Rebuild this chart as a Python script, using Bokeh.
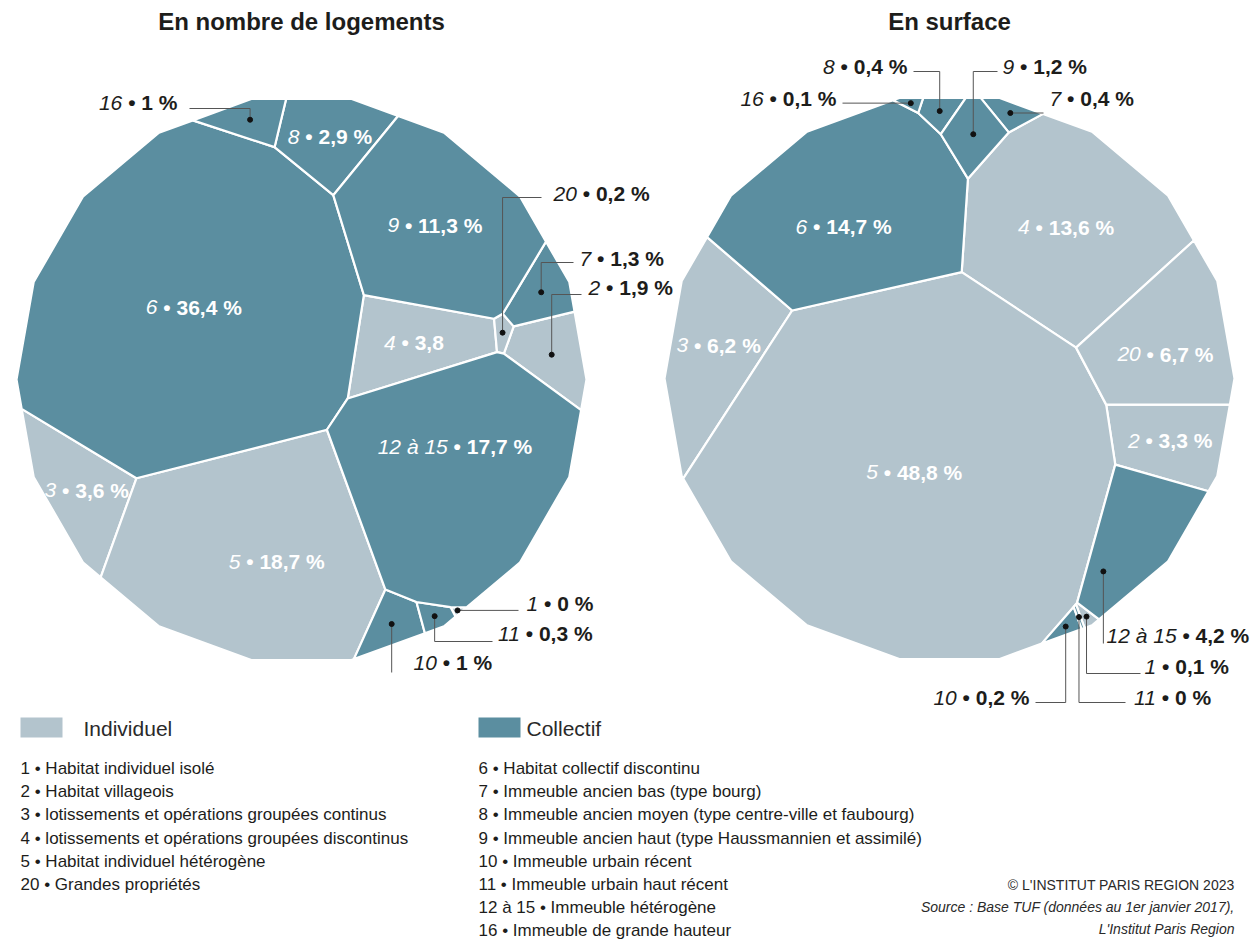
import math
import numpy as np
from bokeh.plotting import figure
from bokeh.models import Range1d
from bokeh.core.properties import value
from bokeh.embed import file_html
from bokeh.resources import INLINE

FONT = "Liberation Sans"

# ---------------- data ----------------
codes = ["1", "2", "3", "4", "5", "20", "6", "7", "8", "9", "10", "11", "12 à 15", "16"]
types = ["Individuel"] * 6 + ["Collectif"] * 8
pct_logements = [0, 1.9, 3.6, 3.8, 18.7, 0.2, 36.4, 1.3, 2.9, 11.3, 1, 0.3, 17.7, 1]
pct_surface = [0.1, 3.3, 6.2, 13.6, 48.8, 6.7, 14.7, 0.4, 0.4, 1.2, 0.2, 0, 4.2, 0.1]

titles = ["En nombre de logements", "En surface"]

legend_indiv_codes = ["1", "2", "3", "4", "5", "20"]
legend_indiv_desc = ["Habitat individuel isolé", "Habitat villageois",
                     "lotissements et opérations groupées continus",
                     "lotissements et opérations groupées discontinus",
                     "Habitat individuel hétérogène", "Grandes propriétés"]
legend_coll_codes = ["6", "7", "8", "9", "10", "11", "12 à 15", "16"]
legend_coll_desc = ["Habitat collectif discontinu", "Immeuble ancien bas (type bourg)",
                    "Immeuble ancien moyen (type centre-ville et faubourg)",
                    "Immeuble ancien haut (type Haussmannien et assimilé)",
                    "Immeuble urbain récent", "Immeuble urbain haut récent",
                    "Immeuble hétérogène", "Immeuble de grande hauteur"]
credits = ["© L'INSTITUT PARIS REGION 2023",
           "Source : Base TUF (données au 1er janvier 2017),",
           "L'Institut Paris Region"]

COLORS = {"Individuel": "#b3c4cd", "Collectif": "#5b8ea0"}
TXT = "#1d1d1b"

# ---------------- layout (seeds of the Voronoi treemap, label placement) ----------------
LEFT = dict(center=(301, 379), R=285,
            seeds={"1": (462, 607), "2": (555, 350), "3": (75, 490), "4": (415, 335),
                   "5": (255, 555), "20": (494, 328), "6": (190, 300), "7": (540, 288),
                   "8": (325, 135), "9": (435, 225), "10": (403, 622), "11": (440, 612),
                   "12 à 15": (460, 480), "16": (250, 117)},
            outside={"16": dict(side="R", x=177, y=102, lx=189, ly=108),
                     "20": dict(side="L", x=553, y=193, lx=541, ly=197),
                     "7": dict(side="L", x=579, y=258, lx=573, ly=262),
                     "2": dict(side="L", x=588, y=287, lx=581, ly=294),
                     "1": dict(side="L", x=526, y=603, lx=518, ly=None),
                     "11": dict(side="L", x=496, y=633, lx=492, ly=641),
                     "10": dict(side="L", x=413, y=662, lx=None, ly=672)},
            nudge={"12 à 15": (0, -28), "5": (25, 8)},
            nopct={"4"})
RIGHT = dict(center=(949, 378), R=285,
             seeds={"1": (1089, 628), "2": (1170, 440), "3": (720, 360), "4": (1070, 230),
                    "5": (905, 480), "20": (1170, 340), "6": (845, 215), "7": (1005, 110),
                    "8": (936, 118), "9": (968, 140), "10": (1074, 632), "11": (1083, 625),
                    "12 à 15": (1140, 545), "16": (900, 106)},
             outside={"16": dict(side="R", x=836, y=98, lx=842, ly=None),
                      "8": dict(side="R", x=907, y=66, lx=913, ly=71),
                      "9": dict(side="L", x=1002, y=66, lx=997, ly=71),
                      "7": dict(side="L", x=1049, y=98, lx=1043, ly=None),
                      "12 à 15": dict(side="L", x=1106, y=635, lx=None, ly=643, dot=(-32, 36)),
                      "1": dict(side="L", x=1144, y=666, lx=1140, ly=673),
                      "11": dict(side="L", x=1132, y=697, lx=1125, ly=702),
                      "10": dict(side="R", x=1029, y=697, lx=1035, ly=702)},
             nudge={"6": (-7, 16), "20": (0, 13)},
             nopct=set())

# ---------------- power-diagram (Voronoi treemap) machinery ----------------
NSIDES = 18


def boundary_poly(c, R):
    return [(c[0] + R * math.cos(math.radians(360 / NSIDES * k)),
             c[1] - R * math.sin(math.radians(360 / NSIDES * k))) for k in range(NSIDES)]


def clamp_inside(pt, c, R, frac=0.97):
    dx, dy = pt[0] - c[0], pt[1] - c[1]
    r = math.hypot(dx, dy)
    if r == 0:
        return pt
    th = math.degrees(math.atan2(-dy, dx))
    step = 360 / NSIDES
    d = (th % step) - step / 2
    apo = R * math.cos(math.radians(step / 2))
    rb = apo / math.cos(math.radians(d))
    if r > frac * rb:
        s = frac * rb / r
        return (c[0] + dx * s, c[1] + dy * s)
    return pt


def clip(poly, labs, a, b, c, lab):
    out, ol = [], []
    n = len(poly)
    for k in range(n):
        P = poly[k]
        Q = poly[(k + 1) % n]
        fP = a * P[0] + b * P[1] - c
        fQ = a * Q[0] + b * Q[1] - c
        if fP <= 0:
            out.append(P)
            ol.append(labs[k])
            if fQ > 0:
                t = fP / (fP - fQ)
                out.append((P[0] + t * (Q[0] - P[0]), P[1] + t * (Q[1] - P[1])))
                ol.append(lab)
        elif fQ <= 0:
            t = fP / (fP - fQ)
            out.append((P[0] + t * (Q[0] - P[0]), P[1] + t * (Q[1] - P[1])))
            ol.append(labs[k])
    return out, ol


def power_cells(S, w, bnd):
    n = len(S)
    cells = []
    for i in range(n):
        poly = list(bnd)
        labs = [-1] * len(poly)
        for j in range(n):
            if j == i:
                continue
            a = 2 * (S[j][0] - S[i][0])
            b = 2 * (S[j][1] - S[i][1])
            c = (S[j][0] ** 2 + S[j][1] ** 2 - S[i][0] ** 2 - S[i][1] ** 2) - w[j] + w[i]
            poly, labs = clip(poly, labs, a, b, c, j)
            if len(poly) < 3:
                poly, labs = [], []
                break
        cells.append((poly, labs))
    return cells


def area_centroid(poly):
    n = len(poly)
    if n < 3:
        return 0.0, (0.0, 0.0)
    a = cx = cy = 0.0
    for k in range(n):
        x0, y0 = poly[k]
        x1, y1 = poly[(k + 1) % n]
        cr = x0 * y1 - x1 * y0
        a += cr
        cx += (x0 + x1) * cr
        cy += (y0 + y1) * cr
    if abs(a) < 1e-12:
        return 0.0, poly[0]
    return abs(a) / 2, (cx / (3 * a), cy / (3 * a))


def areas(cells):
    return np.array([area_centroid(c[0])[0] for c in cells])


def solve(S, target, bnd):
    n = len(S)
    w = np.zeros(n)
    cells = power_cells(S, w, bnd)
    A = areas(cells)
    amin = 0.5 * min(A.min(), target.min())
    for _ in range(120):
        err = target - A
        if np.abs(err).max() < 0.3:
            break
        H = np.zeros((n, n))
        for i, (poly, labs) in enumerate(cells):
            m = len(poly)
            for k in range(m):
                j = labs[k]
                if j < 0:
                    continue
                P, Q = poly[k], poly[(k + 1) % m]
                L = math.hypot(Q[0] - P[0], Q[1] - P[1])
                d = math.hypot(S[i][0] - S[j][0], S[i][1] - S[j][1])
                h = L / (2 * d)
                H[i, j] -= h
                H[i, i] += h
        dw = np.linalg.lstsq(H, err, rcond=None)[0]
        alpha = 1.0
        ok = False
        while alpha > 1e-7:
            w2 = w + alpha * dw
            c2 = power_cells(S, w2, bnd)
            A2 = areas(c2)
            if A2.min() > amin and np.linalg.norm(target - A2) < np.linalg.norm(err):
                ok = True
                break
            alpha /= 2
        if not ok:
            break
        w, cells, A = w2, c2, A2
    return cells


def hspan(poly, y):
    xs = []
    n = len(poly)
    for k in range(n):
        (x0, y0), (x1, y1) = poly[k], poly[(k + 1) % n]
        if (y0 - y) * (y1 - y) <= 0 and y0 != y1:
            t = (y - y0) / (y1 - y0)
            xs.append(x0 + t * (x1 - x0))
    return (min(xs), max(xs)) if xs else None


# ---------------- text helpers ----------------
CW = {" ": .278, "•": .35, "%": .889, ",": .278, "à": .556}


def tw(s, fs):
    return fs * sum(CW.get(ch, .556) for ch in s)


def fmt(v):
    return f"{v:g}".replace(".", ",")


# ---------------- figure ----------------
W, H = 1255, 945
p = figure(width=W, height=H, x_range=Range1d(0, W), y_range=Range1d(H, 0),
           output_backend="svg", toolbar_location=None, min_border=0,
           x_axis_location=None, y_axis_location=None)
p.grid.visible = False
p.outline_line_color = None
p.background_fill_color = "white"


def draw_rich(parts_x1, parts_x2, ys, t1, t2, fs, color):
    p.text(x=parts_x1, y=ys, text=t1, text_font=value(FONT), text_font_size=f"{fs}px",
           text_font_style="italic", text_color=color, text_align="right", text_baseline="middle")
    p.text(x=parts_x2, y=ys, text=t2, text_font=value(FONT), text_font_size=f"{fs}px",
           text_font_style="bold", text_color=color, text_align="left", text_baseline="middle")


FS_IN = 21
FS_OUT = 21

for chart, vals, title in ((LEFT, pct_logements, titles[0]), (RIGHT, pct_surface, titles[1])):
    c, R = chart["center"], chart["R"]
    bnd = boundary_poly(c, R)
    total_area = area_centroid(bnd)[0]
    v = np.array([max(x, 0.03) for x in vals], dtype=float)
    target = v / v.sum() * total_area
    S = [clamp_inside(chart["seeds"][k], c, R) for k in codes]
    cells = solve(S, target, bnd)

    xs, ys, cols = [], [], []
    cents, polys = {}, {}
    for k, t, (poly, _) in zip(codes, types, cells):
        if len(poly) < 3:
            continue
        xs.append([q[0] for q in poly])
        ys.append([q[1] for q in poly])
        cols.append(COLORS[t])
        cents[k] = area_centroid(poly)[1]
        polys[k] = poly
    p.patches(xs, ys, fill_color=cols, line_color="white", line_width=2.2, line_join="round")

    p.text(x=[c[0]], y=[21], text=[title], text_font=value(FONT), text_font_size="24px",
           text_font_style="bold", text_color=TXT, text_align="center", text_baseline="middle")

    ix1, ix2, iy, it1, it2 = [], [], [], [], []
    ox1, ox2, oy, ot1, ot2 = [], [], [], [], []
    lxs, lys, dx, dy = [], [], [], []
    for k, val in zip(codes, vals):
        t1 = k
        t2 = "• " + fmt(val) + ("" if k in chart["nopct"] else " %")
        if k in chart["outside"]:
            spec = chart["outside"][k]
            fs = FS_OUT
            w1, sp, w2 = tw(t1, fs), tw(" ", fs), tw(t2, fs)
            if spec["side"] == "L":
                x1 = spec["x"] + w1
            else:
                x1 = spec["x"] - w2 - sp
            ox1.append(x1)
            ox2.append(x1 + sp)
            oy.append(spec["y"])
            ot1.append(t1)
            ot2.append(t2)
            if k in cents:
                off = spec.get("dot", (0, 0))
                cx_, cy_ = cents[k][0] + off[0], cents[k][1] + off[1]
                ly = spec["ly"] if spec["ly"] is not None else cy_
                if spec["lx"] is None:
                    lxs.append([cx_, cx_])
                    lys.append([ly, cy_])
                else:
                    lxs.append([spec["lx"], cx_, cx_])
                    lys.append([ly, ly, cy_])
                dx.append(cx_)
                dy.append(cy_)
        elif k in cents:
            fs = FS_IN
            w1, sp, w2 = tw(t1, fs), tw(" ", fs), tw(t2, fs)
            wt = w1 + sp + w2
            nd = chart["nudge"].get(k, (0, 0))
            cx_, cy_ = cents[k][0] + nd[0], cents[k][1] + nd[1]
            span = hspan(polys[k], cy_)
            if span is not None:
                lo, hi = span[0] + wt / 2 + 6, span[1] - wt / 2 - 6
                cx_ = min(max(cx_, lo), hi) if lo <= hi else (span[0] + span[1]) / 2
            x0 = cx_ - wt / 2
            ix1.append(x0 + w1)
            ix2.append(x0 + w1 + sp)
            iy.append(cy_)
            it1.append(t1)
            it2.append(t2)
    draw_rich(ix1, ix2, iy, it1, it2, FS_IN, "white")
    p.multi_line(lxs, lys, line_color="#555555", line_width=1)
    p.scatter(dx, dy, size=5, color="#111111")
    draw_rich(ox1, ox2, oy, ot1, ot2, FS_OUT, TXT)

# ---------------- legend ----------------
LEG = [(20, 83, "Individuel", legend_indiv_codes, legend_indiv_desc),
       (478, 526, "Collectif", legend_coll_codes, legend_coll_desc)]
for x_sw, x_tx, name, lc, ld in LEG:
    p.quad(left=[x_sw], right=[x_sw + 42], top=[717], bottom=[737], fill_color=COLORS[name],
           line_color=None)
    p.text(x=[x_tx], y=[728], text=[name], text_font=value(FONT), text_font_size="21px",
           text_color="#2a2a2a", text_align="left", text_baseline="middle")
    p.text(x=[x_sw] * len(lc), y=[768 + 23.2 * i for i in range(len(lc))],
           text=[f"{a} • {b}" for a, b in zip(lc, ld)], text_font=value(FONT),
           text_font_size="17px", text_color=TXT, text_align="left", text_baseline="middle")

p.text(x=[1234], y=[884], text=[credits[0]], text_font=value(FONT), text_font_size="14px",
       text_color="#2a2a2a", text_align="right", text_baseline="middle")
p.text(x=[1234, 1234], y=[906, 928], text=credits[1:], text_font=value(FONT),
       text_font_size="14px", text_font_style="italic", text_color="#2a2a2a",
       text_align="right", text_baseline="middle")

open("out.html", "w").write(file_html(p, INLINE))
